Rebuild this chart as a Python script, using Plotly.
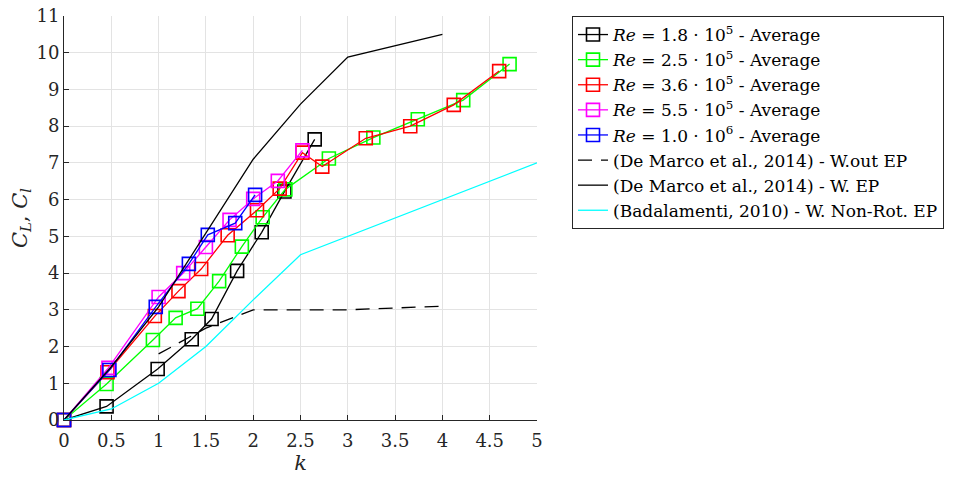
import plotly.graph_objects as go

# Average lift coefficient vs. spin ratio k for each Reynolds number
k_re18 = [0, 0.45, 0.99, 1.35, 1.56, 1.83, 2.09, 2.33, 2.65]
cl_re18 = [0, 0.37, 1.39, 2.2, 2.75, 4.06, 5.11, 6.22, 7.64]

k_re25 = [0, 0.45, 0.94, 1.18, 1.41, 1.64, 1.88, 2.1, 2.34, 2.8, 3.27, 3.74, 4.22, 4.71]
cl_re25 = [0, 0.98, 2.18, 2.78, 3.03, 3.78, 4.72, 5.52, 6.28, 7.12, 7.69, 8.19, 8.71, 9.69]

k_re36 = [0, 0.46, 0.96, 1.21, 1.45, 1.73, 2.04, 2.28, 2.52, 2.73, 3.19, 3.66, 4.12, 4.6]
cl_re36 = [0, 1.3, 2.83, 3.51, 4.11, 5.03, 5.71, 6.3, 7.28, 6.9, 7.67, 8.0, 8.58, 9.5]

k_re55 = [0, 0.47, 1.0, 1.26, 1.5, 1.75, 2.0, 2.26, 2.52]
cl_re55 = [0, 1.42, 3.35, 4.0, 4.71, 5.45, 6.02, 6.51, 7.34]

k_re100 = [0, 0.48, 0.97, 1.32, 1.52, 1.81, 2.02]
cl_re100 = [0, 1.36, 3.08, 4.25, 5.04, 5.36, 6.13]

# Reference curves from the literature
k_dm_noep = [1.0, 1.5, 2.0, 2.5, 3.0, 4.0]
cl_dm_noep = [1.8, 2.5, 3.0, 3.0, 3.0, 3.1]

k_dm_ep = [0, 0.5, 1.0, 1.5, 2.0, 2.5, 3.0, 4.0]
cl_dm_ep = [0, 1.45, 3.08, 5.1, 7.1, 8.6, 9.88, 10.5]

k_bad = [0, 0.5, 1.0, 1.5, 2.0, 2.5, 5.0]
cl_bad = [0, 0.3, 1.0, 2.0, 3.27, 4.5, 7.0]

x_ticks = [0, 0.5, 1, 1.5, 2, 2.5, 3, 3.5, 4, 4.5, 5]
y_ticks = list(range(0, 12))

SERIF = "DejaVu Serif, Liberation Serif, Times New Roman, serif"

fig = go.Figure()

measured = [
    (k_re18, cl_re18, "#000000", "<i>Re</i> = 1.8 · 10<sup>5</sup> - Average"),
    (k_re25, cl_re25, "#00ff00", "<i>Re</i> = 2.5 · 10<sup>5</sup> - Average"),
    (k_re36, cl_re36, "#ff0000", "<i>Re</i> = 3.6 · 10<sup>5</sup> - Average"),
    (k_re55, cl_re55, "#ff00ff", "<i>Re</i> = 5.5 · 10<sup>5</sup> - Average"),
    (k_re100, cl_re100, "#0000ff", "<i>Re</i> = 1.0 · 10<sup>6</sup> - Average"),
]
for kx, cy, col, name in measured:
    fig.add_trace(go.Scatter(
        x=kx, y=cy, name=name, mode="lines+markers", cliponaxis=False,
        line=dict(color=col, width=1.3),
        marker=dict(symbol="square-open", size=13, color=col, line=dict(width=1.6, color=col)),
    ))

fig.add_trace(go.Scatter(
    x=k_dm_noep, y=cl_dm_noep, name="(De Marco et al., 2014) - W.out EP", mode="lines",
    line=dict(color="#000000", width=1.3, dash="14px,9px"),
))
fig.add_trace(go.Scatter(
    x=k_dm_ep, y=cl_dm_ep, name="(De Marco et al., 2014) - W. EP", mode="lines",
    line=dict(color="#000000", width=1.3),
))
fig.add_trace(go.Scatter(
    x=k_bad, y=cl_bad, name="(Badalamenti, 2010) - W. Non-Rot. EP", mode="lines",
    line=dict(color="#00ffff", width=1.3),
))

fig.update_layout(
    width=960, height=477,
    margin=dict(l=64, r=423, t=16, b=57),
    paper_bgcolor="white", plot_bgcolor="white",
    font=dict(family=SERIF, size=18, color="#262626"),
    showlegend=True,
    legend=dict(
        x=1.074, y=1.0, xanchor="left", yanchor="top",
        bgcolor="white", bordercolor="#262626", borderwidth=1,
        font=dict(family=SERIF, size=17, color="#000000"),
        tracegroupgap=0, itemwidth=30,
    ),
    xaxis=dict(
        range=[0, 5], tickvals=x_ticks, ticktext=[f"{v:g}" for v in x_ticks],
        showgrid=True, gridcolor="#e3e3e3", gridwidth=1,
        showline=True, linecolor="#262626", linewidth=1,
        ticks="inside", ticklen=5, tickcolor="#262626",
        zeroline=False, mirror=False, ticklabelstandoff=4, automargin=False,
        title=dict(text="<i>k</i>", font=dict(family=SERIF, size=21), standoff=4),
    ),
    yaxis=dict(
        range=[0, 11], tickvals=y_ticks,
        showgrid=True, gridcolor="#e3e3e3", gridwidth=1,
        showline=True, linecolor="#262626", linewidth=1,
        ticks="inside", ticklen=5, tickcolor="#262626",
        zeroline=False, mirror=False, automargin=False,
        title=dict(text="<i>C<sub>L</sub></i>, <i>C<sub>l</sub></i>", font=dict(family=SERIF, size=21), standoff=3),
    ),
)

fig.write_html("out.html")
